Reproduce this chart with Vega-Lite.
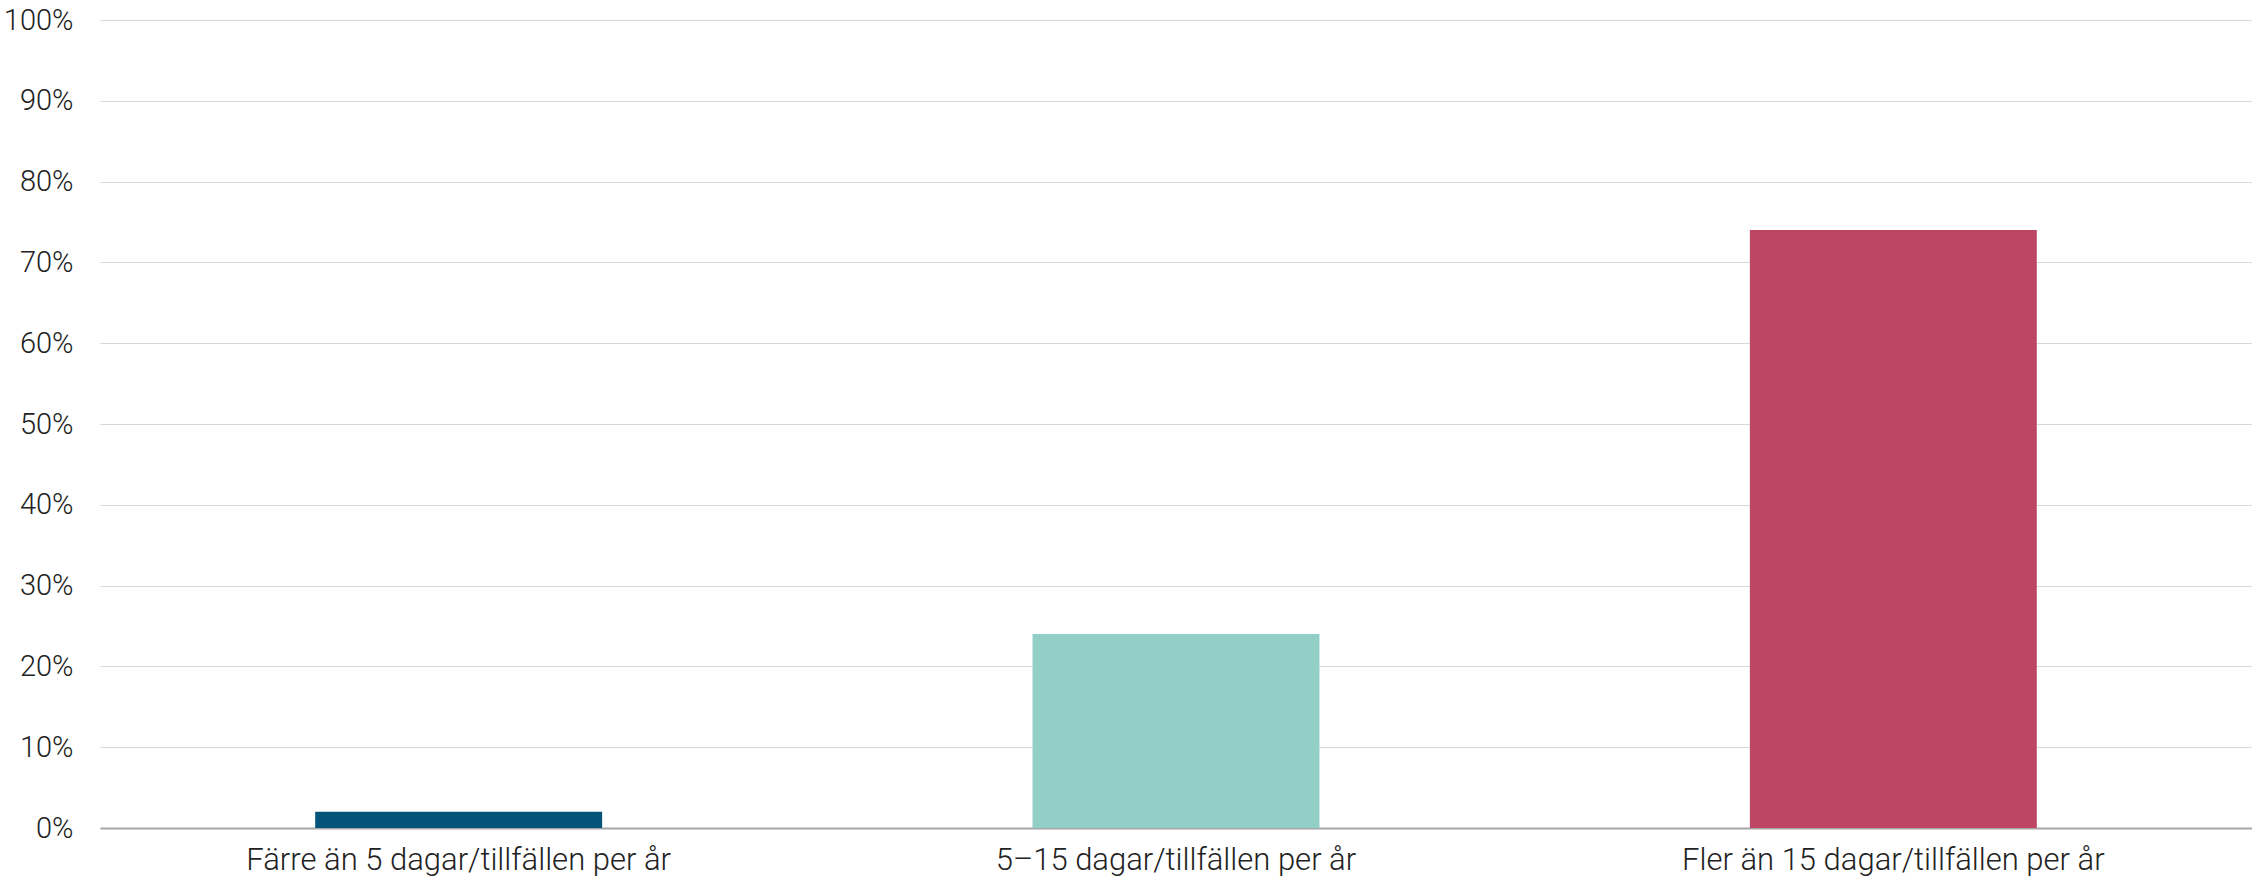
{
  "$schema": "https://vega.github.io/schema/vega-lite/v6.json",
  "autosize": "none",
  "padding": {"left": 100, "top": 20, "right": 0, "bottom": 52},
  "width": 2152,
  "height": 808,
  "background": "white",
  "config": {
    "view": {"stroke": null},
    "font": "Roboto",
    "axis": {"labelFont": "Roboto", "labelColor": "#222222", "labelFontWeight": 300}
  },
  "data": {
    "values": [
      {"kategori": "Färre än 5 dagar/tillfällen per år", "andel": 0.02},
      {"kategori": "5–15 dagar/tillfällen per år", "andel": 0.24},
      {"kategori": "Fler än 15 dagar/tillfällen per år", "andel": 0.74}
    ]
  },
  "mark": {"type": "bar"},
  "encoding": {
    "x": {
      "field": "kategori",
      "type": "nominal",
      "sort": null,
      "scale": {"paddingInner": 0.6, "paddingOuter": 0.3},
      "axis": {"title": null, "labelAngle": 0, "ticks": false, "domainColor": "#a6a6a6", "domainWidth": 2, "labelPadding": 17, "labelLimit": 0, "labelFontSize": 31}
    },
    "y": {
      "field": "andel",
      "type": "quantitative",
      "scale": {"domain": [0, 1], "nice": false},
      "axis": {"title": null, "format": ".0%", "values": [0, 0.1, 0.2, 0.3, 0.4, 0.5, 0.6, 0.7, 0.8, 0.9, 1], "domain": false, "ticks": false, "gridColor": "#d9d9d9", "gridWidth": 1, "labelPadding": 27, "labelFontSize": 29}
    },
    "color": {
      "field": "kategori",
      "type": "nominal",
      "sort": null,
      "scale": {"domain": ["Färre än 5 dagar/tillfällen per år", "5–15 dagar/tillfällen per år", "Fler än 15 dagar/tillfällen per år"], "range": ["#035478", "#92cfc7", "#bc4664"]},
      "legend": null
    }
  }
}
